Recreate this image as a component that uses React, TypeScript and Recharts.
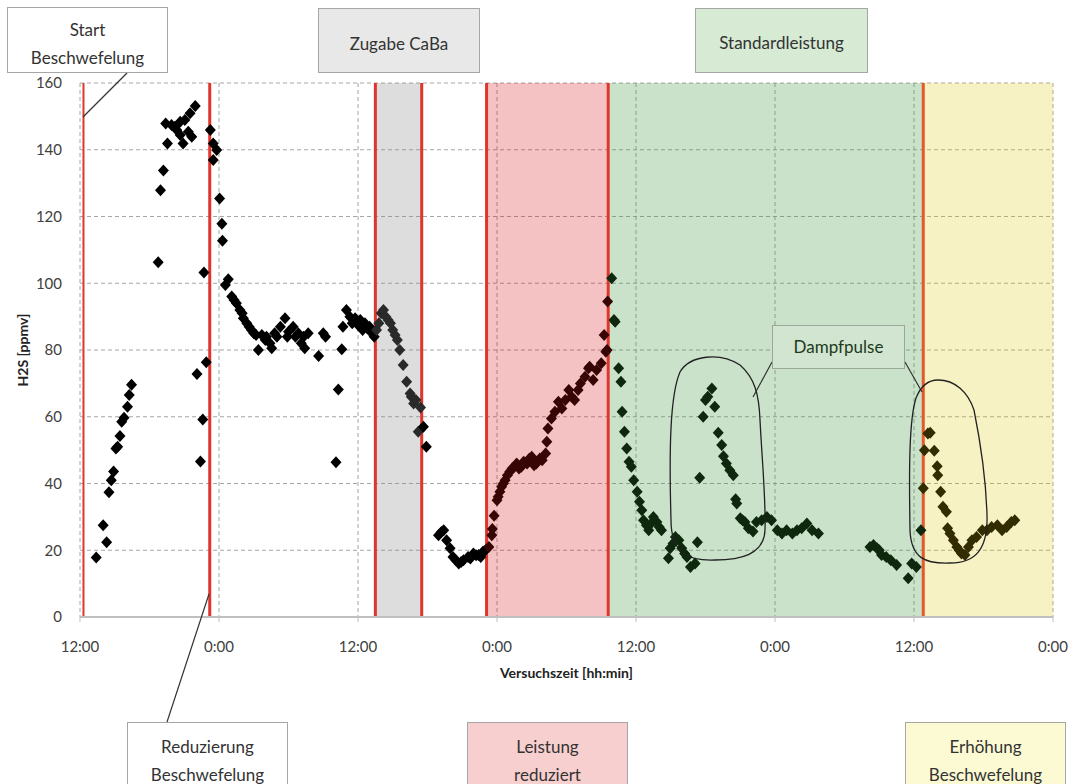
import React from 'react';
import {
    ScatterChart, Scatter, XAxis, YAxis, CartesianGrid, ReferenceArea, ReferenceLine
} from 'recharts';

// Versuchszeit in Stunden ab 12:00 des ersten Tages, H2S in ppmv
const anstieg: [number, number][] = [
    [1.4, 17.8], [2.0, 27.5], [2.3, 22.4], [2.5, 37.4], [2.7, 41], [2.9, 43.6], [3.1, 50.5], [3.25, 51],
    [3.45, 54.2], [3.6, 58.5], [3.8, 59.7], [4.1, 63], [4.25, 66.5], [4.45, 69.6],
    [6.75, 106.3], [6.95, 127.9], [7.2, 133.8], [7.4, 147.9], [7.55, 141.9], [7.9, 147.4], [8.2, 146.9],
    [8.35, 145.9], [8.65, 148.4], [8.65, 144.4], [8.9, 141.9], [9.05, 148.9], [9.35, 145.4], [9.5, 150.9],
    [9.65, 143.9], [9.95, 153.1],
    [10.1, 72.8], [10.4, 46.6], [10.6, 59.2], [10.7, 103.2], [10.9, 76.3],
];

const abfall: [number, number][] = [
    [11.25, 145.9], [11.5, 141.9], [11.5, 136.9], [11.8, 139.9], [12.05, 125.4], [12.25, 117.8], [12.3, 112.7],
    [12.55, 99.5], [12.8, 101.2], [13.1, 96], [13.3, 95], [13.5, 94], [13.8, 92], [14.0, 91], [14.1, 89.5],
    [14.4, 88], [14.6, 87], [14.8, 86], [15.0, 85], [15.2, 84.5], [15.4, 80], [15.7, 84.5], [16.0, 83],
    [16.1, 84], [16.4, 82], [16.55, 80.5], [16.8, 85], [17.0, 84], [17.3, 87], [17.7, 89.5], [17.9, 84],
    [18.0, 85.5], [18.4, 87], [18.6, 84], [18.85, 85], [19.1, 82], [19.3, 84], [19.4, 80.5], [19.7, 85],
    [20.6, 78.2], [21.0, 85], [21.2, 84], [22.1, 46.4], [22.3, 68.2], [22.6, 80.2], [22.7, 87], [23.0, 92],
    [23.3, 90], [23.5, 88], [23.75, 89.5], [24.0, 87.5], [24.2, 89], [24.4, 86], [24.6, 88], [24.8, 86.5],
    [25.0, 87], [25.2, 85], [25.4, 84],
];

const caba: [number, number][] = [
    [25.6, 86], [25.8, 88], [26.0, 91], [26.2, 92], [26.4, 90], [26.6, 89], [26.8, 88], [27.0, 86],
    [27.2, 84.5], [27.4, 83], [27.6, 80], [27.9, 75.5], [28.2, 70.5], [28.5, 67], [28.6, 66], [28.8, 64],
    [29.0, 65], [29.2, 55.5], [29.4, 62.8],
];

const minimum: [number, number][] = [
    [29.65, 57], [29.9, 51], [30.95, 24.5], [31.2, 25.5], [31.4, 26], [31.65, 23], [31.95, 20.6], [32.2, 18],
    [32.45, 17], [32.7, 16], [32.9, 16.5], [33.1, 17], [33.5, 18], [33.7, 17.5], [33.96, 19], [34.2, 18.5],
    [34.4, 18.6], [34.6, 18], [34.8, 19.6], [35.0, 20],
];

const reduziert: [number, number][] = [
    [35.3, 21], [35.55, 24.5], [35.6, 26.4], [35.75, 30.3], [36.0, 35], [36.1, 36], [36.25, 37.5], [36.4, 39],
    [36.55, 40], [36.7, 41], [36.9, 42.5], [37.1, 43.5], [37.3, 44.5], [37.5, 45], [37.7, 46], [37.9, 44.5],
    [38.1, 45], [38.3, 46.5], [38.6, 46], [38.8, 47.5], [39.0, 48], [39.2, 45.5], [39.4, 46], [39.7, 47.5],
    [39.9, 47], [40.2, 49], [40.3, 52.5], [40.4, 56.5], [40.7, 59.5], [41.0, 61.5], [41.3, 64.5], [41.6, 62.5],
    [41.9, 65], [42.2, 68], [42.45, 66], [42.7, 65], [43.0, 68], [43.2, 70], [43.6, 72], [43.9, 74.5],
    [44.0, 75], [44.3, 71], [44.6, 74], [45.0, 76], [45.25, 84.5], [45.4, 79.5], [45.5, 80], [45.55, 94.5],
];

const standard: [number, number][] = [
    [45.9, 101.5], [46.1, 89], [46.2, 88.5], [46.5, 74.5], [46.7, 70.5], [46.8, 61.5], [47.0, 55.5],
    [47.2, 50.5], [47.4, 46.5], [47.6, 45], [47.8, 41], [48.1, 37.5], [48.3, 34.5], [48.5, 32], [48.65, 29],
    [48.9, 27.5], [49.1, 26], [49.3, 28], [49.5, 30], [49.8, 28.5], [50.0, 27], [50.2, 26], [50.8, 17.6],
    [50.95, 20.6], [51.2, 22], [51.4, 24], [51.7, 23], [51.95, 20.6], [52.2, 19], [52.4, 18], [52.7, 15],
    [53.1, 16], [53.3, 22.4], [53.5, 41.7], [53.8, 60], [54.0, 65], [54.2, 66], [54.55, 68.5], [54.8, 63],
    [55.1, 55.2], [55.4, 51.5], [55.55, 48.2], [55.8, 46], [56.1, 44], [56.4, 42.5], [56.6, 35.3], [56.7, 34],
    [57.0, 29.6], [57.2, 29], [57.4, 28.5], [57.7, 26.6], [58.1, 25.6], [58.4, 28.5], [58.85, 29], [59.3, 30],
    [59.7, 29], [60.2, 26], [60.6, 25], [61.0, 26], [61.5, 25], [61.9, 26], [62.3, 26.6], [62.75, 28],
    [63.2, 26], [63.75, 25],
    [68.2, 21], [68.5, 21.6], [68.8, 20.6], [69.0, 20], [69.2, 18.6], [69.6, 18], [70.0, 17], [70.5, 15.6],
    [71.5, 11.6], [71.8, 16], [72.2, 15], [72.6, 26],
];

const erhoehung: [number, number][] = [
    [72.8, 38.6], [72.9, 50], [73.2, 55], [73.4, 55.2], [73.75, 49.8], [74.0, 45.2], [74.05, 42.5], [74.3, 37.5],
    [74.5, 33], [74.8, 31.5], [74.9, 26.6], [75.1, 25], [75.4, 23], [75.7, 21], [75.9, 20], [76.1, 19],
    [76.4, 18.6], [76.7, 21], [77.0, 23], [77.4, 24], [77.9, 26], [78.3, 26], [78.7, 27], [79.2, 27.5],
    [79.6, 26], [80.0, 27], [80.4, 28.5], [80.7, 29],
];

const xTicks = [0, 12, 24, 36, 48, 60, 72, 84];
const xTickLabels = ['12:00', '0:00', '12:00', '0:00', '12:00', '0:00', '12:00', '0:00'];
const yTicks = [0, 20, 40, 60, 80, 100, 120, 140, 160];

// Ereignisse (rote Linien) und Phasen in Stunden
const eventLines = [0.3, 11.2, 25.5, 29.5, 35.1, 45.6, 72.8];
const phaseCaba = [25.5, 29.5];
const phaseReduziert = [35.1, 45.6];
const phaseStandard = [45.6, 72.8];
const phaseErhoehung = [72.8, 84];

const toPts = (arr: [number, number][]) => arr.map(([x, y]) => ({ x, y }));

const Diamond = (props: any) => {
    const { cx, cy, fill } = props;
    if (cx == null || cy == null) return null;
    return <path d={`M${cx},${cy - 6}L${cx + 5.5},${cy}L${cx},${cy + 6}L${cx - 5.5},${cy}Z`} fill={fill} />;
};

const Box = ({ left, top, width, height, bg, lines, padTop }: any) => (
    <div style={{
        position: 'absolute', left, top, width, height, background: bg, border: '1px solid #a6a6a6',
        boxSizing: 'border-box', textAlign: 'center', fontFamily: 'Lato, sans-serif', fontSize: 17,
        color: '#333', lineHeight: '28px', paddingTop: padTop,
    }}>
        {lines.map((l: string) => <div key={l}>{l}</div>)}
    </div>
);

export default function App() {
    const font = { fontFamily: 'Lato, sans-serif', fontSize: 15, fill: '#404040' };
    return (
        <div style={{ position: 'absolute', left: 0, top: 0, width: 1074, height: 784, background: '#fff', overflow: 'hidden' }}>
            <ScatterChart width={1074} height={784} margin={{ top: 83, right: 21, bottom: 137, left: 0 }}>
                <CartesianGrid stroke="#a6a6a6" strokeDasharray="4 3" />
                <XAxis
                    type="number" dataKey="x" domain={[0, 84]} ticks={xTicks} height={30}
                    tickFormatter={(v: number) => xTickLabels[xTicks.indexOf(v)]}
                    axisLine={{ stroke: '#c0c0c0', strokeWidth: 2 }} tickLine={{ stroke: '#c0c0c0' }}
                    tickSize={5} tickMargin={19} tick={font}
                />
                <YAxis
                    type="number" dataKey="y" domain={[0, 160]} ticks={yTicks} width={80}
                    axisLine={false} tickLine={false} tickSize={6} tickMargin={12} tick={font}
                />
                <ReferenceArea x1={phaseCaba[0]} x2={phaseCaba[1]} y1={0} y2={160} fill="#8a8a8a" fillOpacity={0.29} stroke="none" />
                <ReferenceArea x1={phaseReduziert[0]} x2={phaseReduziert[1]} y1={0} y2={160} fill="#d31313" fillOpacity={0.26} stroke="none" />
                <ReferenceArea x1={phaseStandard[0]} x2={phaseStandard[1]} y1={0} y2={160} fill="#3a943a" fillOpacity={0.27} stroke="none" />
                <ReferenceArea x1={phaseErhoehung[0]} x2={phaseErhoehung[1]} y1={0} y2={160} fill="#dcc800" fillOpacity={0.23} stroke="none" />
                {eventLines.map((x, i) => (
                    <ReferenceLine key={i} x={x} stroke={i === 6 ? '#e4582a' : '#e0352b'} strokeWidth={i === 0 ? 2 : 3} />
                ))}
                <Scatter data={toPts(anstieg)} fill="#000" shape={<Diamond />} isAnimationActive={false} />
                <Scatter data={toPts(abfall)} fill="#000" shape={<Diamond />} isAnimationActive={false} />
                <Scatter data={toPts(caba)} fill="#2a2a2a" shape={<Diamond />} isAnimationActive={false} />
                <Scatter data={toPts(minimum)} fill="#000" shape={<Diamond />} isAnimationActive={false} />
                <Scatter data={toPts(reduziert)} fill="#380505" shape={<Diamond />} isAnimationActive={false} />
                <Scatter data={toPts(standard)} fill="#0e280e" shape={<Diamond />} isAnimationActive={false} />
                <Scatter data={toPts(erhoehung)} fill="#322c00" shape={<Diamond />} isAnimationActive={false} />
            </ScatterChart>

            {/* Achsentitel */}
            <div style={{ position: 'absolute', left: 0, top: 664, width: 1133, textAlign: 'center', fontFamily: 'Lato, sans-serif', fontWeight: 700, fontSize: 14, color: '#222' }}>
                Versuchszeit [hh:min]
            </div>
            <div style={{ position: 'absolute', left: 22, top: 350, transform: 'translate(-50%, -50%) rotate(-90deg)', whiteSpace: 'nowrap', fontFamily: 'Lato, sans-serif', fontWeight: 700, fontSize: 14, color: '#222' }}>
                H2S [ppmv]
            </div>

            {/* Beschriftungen */}
            <svg width={1074} height={784} style={{ position: 'absolute', left: 0, top: 0, pointerEvents: 'none' }}>
                <line x1={127} y1={73} x2={83} y2={117} stroke="#333" strokeWidth={1.2} />
                <line x1={167} y1={722} x2={209} y2={594} stroke="#333" strokeWidth={1.2} />
                <line x1={772} y1={362} x2={753} y2={397} stroke="#333" strokeWidth={1.2} />
                <line x1={905} y1={362} x2={922} y2={392} stroke="#333" strokeWidth={1.2} />
                <path d="M671,520 C669,450 670,395 680,372 C690,355 720,352 740,365 C755,378 759,395 760,420 C762,460 766,500 765,530 C764,555 740,560 715,560 C690,561 671,555 671,520 Z"
                    fill="none" stroke="#222" strokeWidth={1.3} />
                <path d="M910,530 C909,470 909,420 916,398 C922,383 930,380 938,380 C955,380 968,392 974,410 C980,440 986,480 987,515 C988,550 975,563 950,563 C925,564 911,558 910,530 Z"
                    fill="none" stroke="#222" strokeWidth={1.3} />
            </svg>

            <Box left={7} top={7} width={161} height={66} bg="#fff" lines={['Start', 'Beschwefelung']} padTop={8} />
            <Box left={318} top={8} width={162} height={65} bg="#e8e8e8" lines={['Zugabe CaBa']} padTop={21} />
            <Box left={695} top={8} width={173} height={65} bg="#d6ead4" lines={['Standardleistung']} padTop={20} />
            <Box left={127} top={722} width={161} height={66} bg="#fff" lines={['Reduzierung', 'Beschwefelung']} padTop={10} />
            <Box left={467} top={722} width={161} height={66} bg="#f8cfcf" lines={['Leistung', 'reduziert']} padTop={10} />
            <Box left={905} top={722} width={161} height={66} bg="#fbfad3" lines={['Erhöhung', 'Beschwefelung']} padTop={10} />
            <div style={{
                position: 'absolute', left: 772, top: 325, width: 133, height: 44, background: '#d2e5d0',
                border: '1px solid #9aa89a', boxSizing: 'border-box', textAlign: 'center', fontFamily: 'Lato, sans-serif',
                fontSize: 17, color: '#1c3a1c', lineHeight: '42px',
            }}>
                Dampfpulse
            </div>
        </div>
    );
}
